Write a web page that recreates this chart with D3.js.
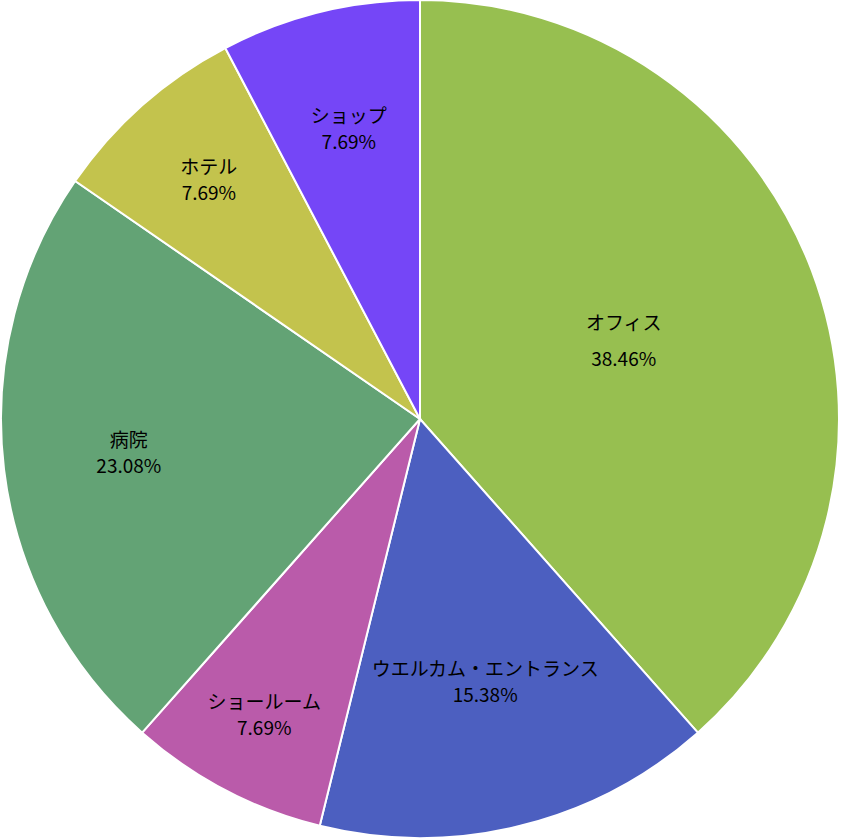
<!DOCTYPE html>
<html>
<head>
<meta charset="utf-8">
<script src="https://cdn.jsdelivr.net/npm/d3@7"></script>
<style>
  body { margin: 0; background: #fff; }
  text { font-family: "Noto Sans CJK JP", "Noto Sans", sans-serif; font-size: 19px; fill: #000; }
</style>
</head>
<body>
<script>
const categories = ["オフィス", "ウエルカム・エントランス", "ショールーム", "病院", "ホテル", "ショップ"];
const values = [5, 2, 1, 3, 1, 1];
const colors = ["#97bf50", "#4c5fc0", "#ba5baa", "#63a375", "#c3c34d", "#7546f7"];
const labelFactor = [0.52, 0.65, 0.8, 0.7, 0.76, 0.71];
const lineGap = [36, 26, 26, 26, 26, 26];

const width = 841, height = 839, cx = 420, cy = 419, radius = 419;
const total = d3.sum(values);

const svg = d3.select("body").append("svg")
  .attr("width", width).attr("height", height);

const g = svg.append("g").attr("transform", `translate(${cx},${cy})`);

const pie = d3.pie().sort(null).value(d => d);
const arcs = pie(values);
const arc = d3.arc().innerRadius(0).outerRadius(radius);

g.selectAll("path").data(arcs).join("path")
  .attr("d", arc)
  .attr("fill", (d, i) => colors[i])
  .attr("stroke", "#fff")
  .attr("stroke-width", 2);

const labels = g.selectAll("g.lbl").data(arcs).join("g")
  .attr("class", "lbl")
  .attr("transform", (d, i) => {
    const a = (d.startAngle + d.endAngle) / 2;
    const r = radius * labelFactor[i];
    return `translate(${r * Math.sin(a)},${-r * Math.cos(a)})`;
  });

labels.append("text")
  .attr("text-anchor", "middle")
  .attr("y", (d, i) => -lineGap[i] / 2 + 6)
  .text((d, i) => categories[i]);

labels.append("text")
  .attr("text-anchor", "middle")
  .attr("y", (d, i) => lineGap[i] / 2 + 6)
  .text(d => (d.value / total * 100).toFixed(2) + "%");
</script>
</body>
</html>
